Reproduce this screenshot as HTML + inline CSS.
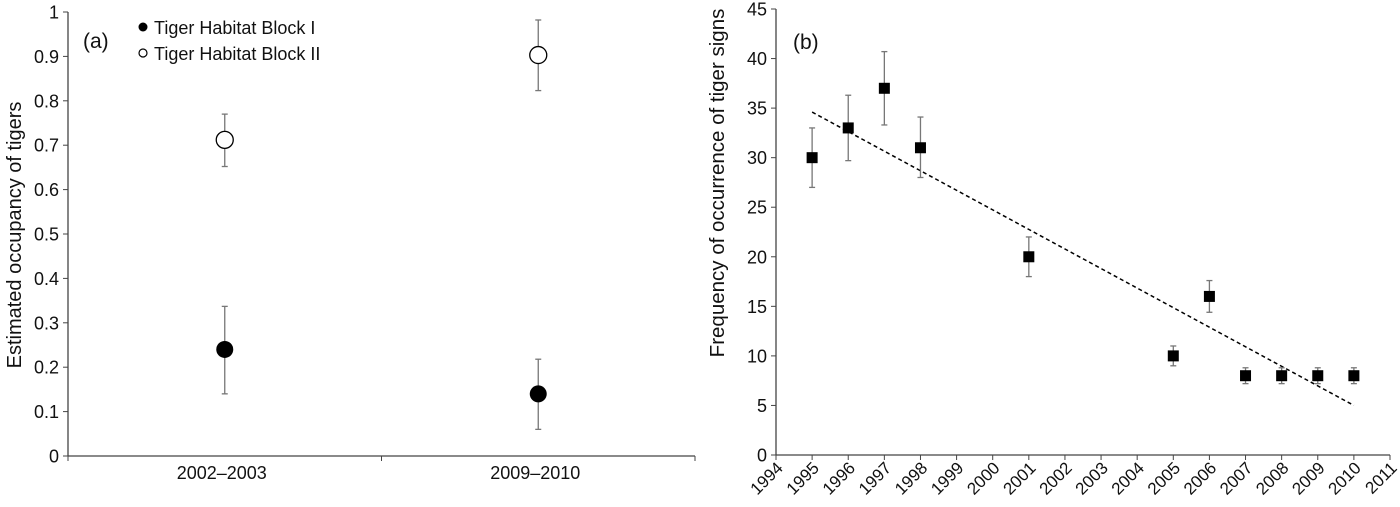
<!DOCTYPE html>
<html><head><meta charset="utf-8"><style>
body{margin:0;background:#fff}
svg{display:block;font-family:"Liberation Sans",Arial,sans-serif}
</style></head><body>
<svg id="chart" width="1400" height="507" viewBox="0 0 1400 507"></svg>
<script>
// Panel (a) data
const catsA = ["2002–2003", "2009–2010"];
const block1 = [0.24, 0.14];
const block1Lo = [0.14, 0.06];
const block1Hi = [0.337, 0.218];
const block2 = [0.712, 0.903];
const block2Lo = [0.652, 0.823];
const block2Hi = [0.77, 0.982];
const yTicksA = [0, 0.1, 0.2, 0.3, 0.4, 0.5, 0.6, 0.7, 0.8, 0.9, 1];
// Panel (b) data
const yearsB = [1995, 1996, 1997, 1998, 2001, 2005, 2006, 2007, 2008, 2009, 2010];
const freqB = [30, 33, 37, 31, 20, 10, 16, 8, 8, 8, 8];
const freqLo = [27, 29.7, 33.3, 28, 18, 9, 14.4, 7.2, 7.2, 7.2, 7.2];
const freqHi = [33, 36.3, 40.7, 34.1, 22, 11, 17.6, 8.8, 8.8, 8.8, 8.8];
const trendYears = [1995, 2010];
const trendVals = [34.6, 5.0];
const yTicksB = [0, 5, 10, 15, 20, 25, 30, 35, 40, 45];
const xTicksB = [1994,1995,1996,1997,1998,1999,2000,2001,2002,2003,2004,2005,2006,2007,2008,2009,2010,2011];

const svg = document.getElementById('chart');
const NS = 'http://www.w3.org/2000/svg';
function mk(tag, attrs, text){
  const e = document.createElementNS(NS, tag);
  for (const k in attrs) e.setAttribute(k, attrs[k]);
  if (text !== undefined) e.textContent = text;
  svg.appendChild(e);
  return e;
}
let e;
// ---------- Panel A ----------
const axA = {x0:68, x1:695, y0:456, y1:12};
const yA = v => axA.y0 - v * (axA.y0 - axA.y1);
const xA = i => axA.x0 + (axA.x1 - axA.x0) * (0.25 + 0.5 * i);
e = mk('line', {x1:axA.x0, y1:axA.y1, x2:axA.x0, y2:axA.y0, stroke:'#444', 'stroke-width':1.3});
 
e = mk('line', {x1:axA.x0, y1:axA.y0, x2:axA.x1, y2:axA.y0, stroke:'#444', 'stroke-width':1.3});
 
yTicksA.forEach(v => {
  mk('line', {x1:axA.x0-5, y1:yA(v), x2:axA.x0, y2:yA(v), stroke:'#444'});
  e = mk('text', {x:axA.x0-9, y:yA(v)+6.5, 'text-anchor':'end', 'font-size':18, fill:'#111'}, String(v));
   
});
[0, 0.5, 1].forEach(f => {
  const x = axA.x0 + (axA.x1 - axA.x0) * f;
  mk('line', {x1:x, y1:axA.y0, x2:x, y2:axA.y0+5, stroke:'#444'});
});
catsA.forEach((c, i) => {
  e = mk('text', {x:xA(i)-3, y:479, 'text-anchor':'middle', 'font-size':18, fill:'#111'}, c);
   
});
function errbar(x, lo, hi, cap){
  mk('line', {x1:x, y1:lo, x2:x, y2:hi, stroke:'#777', 'stroke-width':1.3});
  mk('line', {x1:x-cap, y1:lo, x2:x+cap, y2:lo, stroke:'#777', 'stroke-width':1.3});
  mk('line', {x1:x-cap, y1:hi, x2:x+cap, y2:hi, stroke:'#777', 'stroke-width':1.3});
}
catsA.forEach((c, i) => {
  errbar(xA(i), yA(block1Lo[i]), yA(block1Hi[i]), 3);
  e = mk('circle', {cx:xA(i), cy:yA(block1[i]), r:8.5, fill:'#000'});
   
  errbar(xA(i), yA(block2Lo[i]), yA(block2Hi[i]), 3);
  e = mk('circle', {cx:xA(i), cy:yA(block2[i]), r:8.5, fill:'#fff', stroke:'#000', 'stroke-width':1.3});
   
});
e = mk('text', {x:83, y:48, 'font-size':21, fill:'#111'}, '(a)');
 
e = mk('circle', {cx:143, cy:27, r:4.5, fill:'#000'});
 
e = mk('text', {x:154, y:34, 'font-size':18, fill:'#111'}, 'Tiger Habitat Block I');
 
e = mk('circle', {cx:143, cy:53, r:4, fill:'#fff', stroke:'#000', 'stroke-width':1.2});
 
e = mk('text', {x:154, y:60, 'font-size':18, fill:'#111'}, 'Tiger Habitat Block II');
 
e = mk('text', {x:0, y:0, 'font-size':20, fill:'#111', 'text-anchor':'middle', transform:'translate(21,235) rotate(-90)'}, 'Estimated occupancy of tigers');
 

// ---------- Panel B ----------
const axB = {x0:776, x1:1390, y0:455, y1:9};
const yB = v => axB.y0 - v / 45 * (axB.y0 - axB.y1);
const xB = yr => axB.x0 + (yr - 1994) / 17 * (axB.x1 - axB.x0);
e = mk('line', {x1:axB.x0, y1:axB.y1, x2:axB.x0, y2:axB.y0, stroke:'#444', 'stroke-width':1.3});
 
e = mk('line', {x1:axB.x0, y1:axB.y0, x2:axB.x1, y2:axB.y0, stroke:'#444', 'stroke-width':1.3});
 
yTicksB.forEach(v => {
  mk('line', {x1:axB.x0-5, y1:yB(v), x2:axB.x0, y2:yB(v), stroke:'#444'});
  e = mk('text', {x:axB.x0-9, y:yB(v)+6.5, 'text-anchor':'end', 'font-size':18, fill:'#111'}, String(v));
   
});
xTicksB.forEach(yr => {
  mk('line', {x1:xB(yr), y1:axB.y0, x2:xB(yr), y2:axB.y0+5, stroke:'#444'});
  e = mk('text', {x:0, y:0, 'text-anchor':'end', 'font-size':17, fill:'#111', transform:`translate(${xB(yr)+8},${axB.y0+14}) rotate(-45)`}, String(yr));
   
});
e = mk('line', {x1:xB(trendYears[0]), y1:yB(trendVals[0]), x2:xB(trendYears[1]), y2:yB(trendVals[1]), stroke:'#000', 'stroke-width':1.5, 'stroke-dasharray':'4,3'});
 
yearsB.forEach((yr, i) => {
  errbar(xB(yr), yB(freqLo[i]), yB(freqHi[i]), 3);
  e = mk('rect', {x:xB(yr)-5.5, y:yB(freqB[i])-5.5, width:11, height:11, fill:'#000'});
   
});
e = mk('text', {x:793, y:49, 'font-size':21, fill:'#111'}, '(b)');
 
e = mk('text', {x:0, y:0, 'font-size':20.5, fill:'#111', 'text-anchor':'middle', transform:'translate(724,183) rotate(-90)'}, 'Frequency of occurrence of tiger signs');
 
</script>
</body></html>
